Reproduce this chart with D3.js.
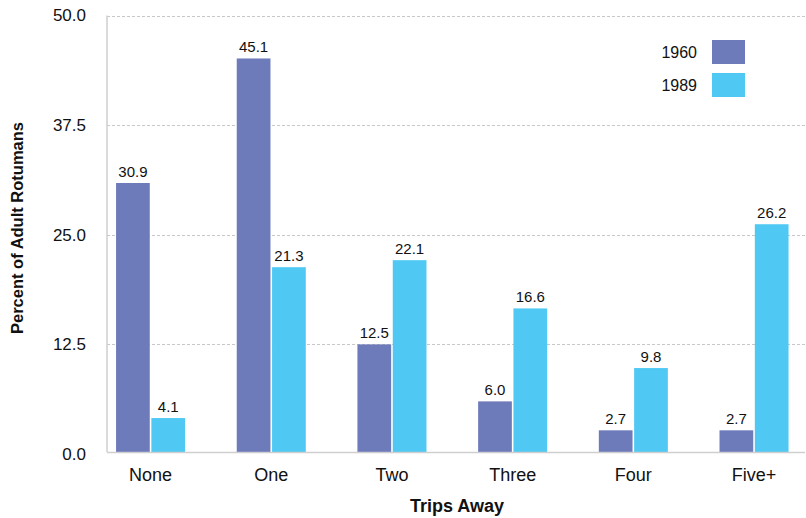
<!DOCTYPE html>
<html><head><meta charset="utf-8">
<script src="https://cdn.jsdelivr.net/npm/d3@7"></script>
<style>body{margin:0;background:#fff}text{font-family:"Liberation Sans",Arial,Helvetica,sans-serif;fill:#111}</style>
</head><body><svg id="c" width="806" height="518"></svg>
<script>
const categories = ["None","One","Two","Three","Four","Five+"];
const seriesNames = ["1960","1989"];
const values1960 = [30.9,45.1,12.5,6.0,2.7,2.7];
const values1989 = [4.1,21.3,22.1,16.6,9.8,26.2];
const yTicks = [0,12.5,25,37.5,50];
const colors = ["#6e7bbb","#4fc9f3"];

const svg = d3.select("#c");
const mLeft = 107, mRight = 805, axisY = 452;
const y = d3.scaleLinear().domain([0,50]).range([454, 15.5]);
const x0 = d3.scaleBand().domain(categories).range([mLeft, 797.6]).paddingInner(0.428).paddingOuter(0.075);
const x1 = d3.scaleBand().domain(seriesNames).range([0, x0.bandwidth()]).paddingInner(0.045);
const FF = "'Liberation Sans',Arial,sans-serif";

// grid
svg.append("g").selectAll("line").data(yTicks.filter(d=>d>0)).join("line")
  .attr("x1", mLeft).attr("x2", mRight).attr("y1", d=>Math.round(y(d))+0.5).attr("y2", d=>Math.round(y(d))+0.5)
  .attr("stroke","#c8c8c8").attr("stroke-width",1).attr("stroke-dasharray","3,2");

// y axis
const yAxis = d3.axisLeft(y).tickValues(yTicks).tickFormat(d3.format(".1f")).tickSize(0).tickPadding(21);
const ya = svg.append("g").attr("transform",`translate(${mLeft},0)`).call(yAxis);
ya.select(".domain").remove();
ya.selectAll("text").attr("font-size",17).attr("fill","#111").style("font-family",FF);
svg.append("line").attr("x1",mLeft).attr("x2",mLeft).attr("y1",y(50)).attr("y2",axisY).attr("stroke","#cfcfcf").attr("stroke-width",1.5);

// bars
const data = categories.map((c,i)=>({c, vals:[values1960[i], values1989[i]]}));
const g = svg.append("g").selectAll("g").data(data).join("g").attr("transform", d=>`translate(${x0(d.c)},0)`);
g.selectAll("rect").data(d=>d.vals.map((v,j)=>({s:seriesNames[j], v, j}))).join("rect")
  .attr("x", d=>x1(d.s)).attr("width", x1.bandwidth())
  .attr("y", d=>y(d.v)).attr("height", d=>axisY - y(d.v)).attr("fill", d=>colors[d.j]);
g.selectAll("text").data(d=>d.vals.map((v,j)=>({s:seriesNames[j], v, j}))).join("text")
  .attr("x", d=>x1(d.s)+x1.bandwidth()/2).attr("y", d=>y(d.v)-6)
  .attr("text-anchor","middle").attr("font-size",15).text(d=>d.v.toFixed(1));

// x axis
svg.append("line").attr("x1",mLeft).attr("x2",mRight).attr("y1",axisY+0.5).attr("y2",axisY+0.5).attr("stroke","#cfcfcf").attr("stroke-width",1.5);
const xAxis = d3.axisBottom(x0).tickSize(0).tickPadding(16);
const xa = svg.append("g").attr("transform",`translate(0,${axisY})`).call(xAxis);
xa.select(".domain").remove();
xa.selectAll("text").attr("font-size",18).attr("fill","#111").style("font-family",FF);

// titles
svg.append("text").attr("x",457).attr("y",512).attr("text-anchor","middle").attr("font-size",18).attr("font-weight","bold").text("Trips Away");
svg.append("text").attr("transform","translate(23,228) rotate(-90)").attr("text-anchor","middle").attr("font-size",16.5).attr("font-weight","bold").text("Percent of Adult Rotumans");

// legend
const lg = svg.append("g").selectAll("g").data(seriesNames).join("g").attr("transform",(d,i)=>`translate(0,${40+i*33})`);
lg.append("rect").attr("x",712).attr("y",0).attr("width",33).attr("height",24).attr("fill",(d,i)=>colors[i]);
lg.append("text").attr("x",697).attr("y",18).attr("text-anchor","end").attr("font-size",16).text(d=>d);
</script></body></html>
